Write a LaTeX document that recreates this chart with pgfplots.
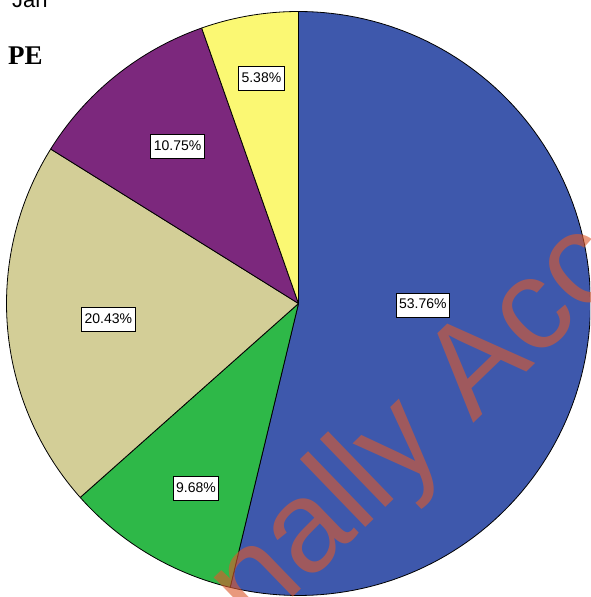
\documentclass[border=0pt]{standalone}
\usepackage{pgfplots}
\pgfplotsset{compat=1.18}
\usepackage{fontspec}
\setmainfont{Liberation Sans}
\newfontfamily\titlefont{Liberation Serif}

\definecolor{pieblue}{RGB}{62,88,172}
\definecolor{piegreen}{RGB}{46,184,72}
\definecolor{pietan}{RGB}{211,206,151}
\definecolor{piepurple}{RGB}{124,40,125}
\definecolor{pieyellow}{RGB}{251,248,115}
\definecolor{wmark}{RGB}{220,90,45}

% One wedge, clockwise from 12 o'clock: #1 = share before it (percent),
% #2 = its own share (percent), #3 = fill colour
\newcommand\pieslice[3]{%
  \pgfmathsetmacro\angA{90-3.6*(#1+#2)}%
  \pgfmathsetmacro\angB{90-3.6*(#1)}%
  \edef\doslice{\noexpand\addplot[draw=black, line width=0.8pt, line join=round,
      fill=#3, domain=\angA:\angB, samples=120, variable=\noexpand\t]}%
  \doslice ({cos(\t)},{sin(\t)}) -- (axis cs:0,0) -- cycle;%
}

\tikzset{pct/.style={draw=black, fill=white, line width=0.8pt,
    inner xsep=3pt, inner ysep=5pt, text height=11pt, text depth=3pt,
    font=\fontsize{14}{14}\selectfont}}

\begin{document}
\begin{tikzpicture}
\useasboundingbox (0,0) rectangle (590pt,597pt);
\clip (0,0) rectangle (590pt,597pt);

\begin{axis}[at={(298.5pt,293.5pt)}, anchor=center, hide axis,
    scale only axis, width=584pt, height=584pt,
    xmin=-1, xmax=1, ymin=-1, ymax=1, clip=false]
  \pieslice{0}{53.76}{pieblue}
  \pieslice{53.76}{9.68}{piegreen}
  \pieslice{63.44}{20.43}{pietan}
  \pieslice{83.87}{10.75}{piepurple}
  \pieslice{94.62}{5.38}{pieyellow}

  \node[pct] at (axis cs:0.426,-0.005) {53.76\%};
  \node[pct] at (axis cs:-0.351,-0.632) {9.68\%};
  \node[pct] at (axis cs:-0.651,-0.055) {20.43\%};
  \node[pct] at (axis cs:-0.414,0.538) {10.75\%};
  \node[pct] at (axis cs:-0.127,0.772) {5.38\%};
\end{axis}

% watermark across the lower right
\node[rotate=44, anchor=base west, inner sep=0pt, text=wmark, text opacity=0.62,
      font=\fontsize{130}{130}\selectfont] at (255pt,-37pt) {nally Acc};

% heading lines
\node[anchor=base west, inner sep=0pt, font=\fontsize{22}{22}\selectfont]
  at (12pt,589pt) {Jan};
\node[anchor=base west, inner sep=0pt, font=\titlefont\bfseries\fontsize{27}{27}\selectfont]
  at (8pt,532pt) {PE};
\end{tikzpicture}
\end{document}
